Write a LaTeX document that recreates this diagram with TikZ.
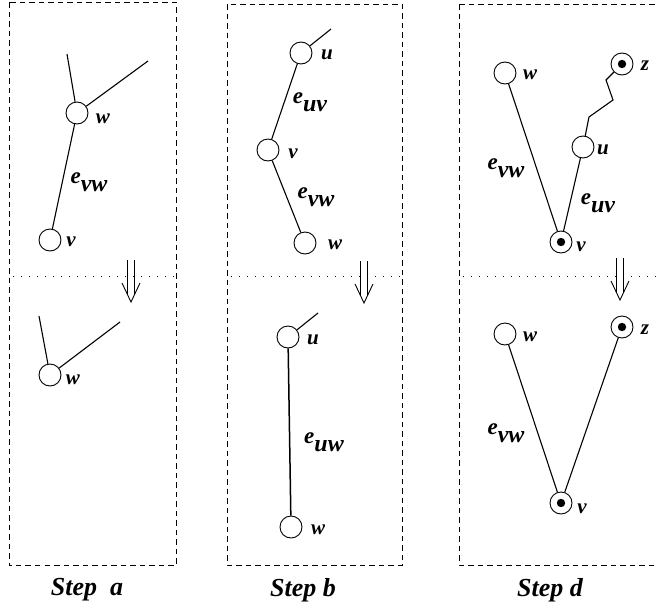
\documentclass[tikz,border=0pt]{standalone}
\usepackage{fontspec}
\setmainfont{Liberation Serif}
\tikzset{
  vtx/.style={circle,draw,minimum size=22pt,inner sep=0pt,line width=0.9pt},
  mk/.style={vtx,path picture={\fill (path picture bounding box.center) circle (4.2pt);}},
  lbl/.style={font=\fontsize{21}{21}\selectfont\bfseries\itshape,inner sep=0pt},
  elbl/.style={font=\fontsize{23}{23}\selectfont\bfseries\itshape,inner sep=0pt},
  steptitle/.style={font=\fontsize{26}{26}\selectfont\bfseries\itshape,inner sep=0pt},
  edge/.style={line width=1.1pt},
  frame/.style={line width=0.9pt,dash pattern=on 5.5pt off 4pt},
  sep/.style={line width=1pt,dash pattern=on 1.3pt off 6.7pt},
  down/.pic={
    \draw[line width=0.9pt] (-3.5,-42) -- (-3.5,-7.4) (3.5,-42) -- (3.5,-7.4);
    \draw[line width=0.9pt] (-9,-19) -- (0,0) -- (9,-19);
  }
}
\newcommand{\esub}[1]{e\raisebox{-8pt}{\fontsize{24}{24}\selectfont #1}}
\begin{document}
\begin{tikzpicture}[x=1pt,y=-1pt]
\useasboundingbox (0,0) rectangle (658,608);

% frames and separators
\draw[frame] (9,2) rectangle (176,565);
\draw[frame] (227,4) rectangle (402,565);
\draw[frame] (459,4) -- (662,4) (459,4) -- (459,565) -- (662,565);
\draw[sep] (13,276) -- (175,276);
\draw[sep] (231,276) -- (402,276);
\draw[sep] (463,276) -- (658,276);

% arrows between stages (tip positions)
\pic at (131,302) {down};
\pic at (364,303) {down};
\pic at (620,300) {down};

% ---- step a, before
\node[vtx] (aw) at (77,113) {};
\node[vtx] (av) at (50,240) {};
\coordinate (aw1) at (67,54);
\coordinate (aw2) at (148,61);
\draw[edge] (aw) -- (aw1);
\draw[edge] (aw) -- (aw2);
\draw[edge] (av) -- (aw);
\node[lbl] at (103,119) {w};
\node[lbl] at (71,242) {v};
\node[elbl] at (89,182) {\esub{vw}};

% ---- step a, after
\node[vtx] (bw) at (50,375) {};
\coordinate (bw1) at (39,316);
\coordinate (bw2) at (120,322);
\draw[edge] (bw) -- (bw1);
\draw[edge] (bw) -- (bw2);
\node[lbl] at (73,380) {w};

% ---- step b, before
\node[vtx] (cu) at (301,53) {};
\node[vtx] (cv) at (268,150) {};
\node[vtx] (cw) at (305,243) {};
\coordinate (cu1) at (331,29);
\draw[edge] (cu) -- (cu1);
\draw[edge] (cu) -- (cv);
\draw[edge] (cv) -- (cw);
\node[lbl] at (327,55) {u};
\node[lbl] at (293,154) {v};
\node[lbl] at (335,245) {w};
\node[elbl] at (310,102) {\esub{uv}};
\node[elbl] at (316,197) {\esub{vw}};

% ---- step b, after
\node[vtx] (du) at (288,337) {};
\node[vtx] (dw) at (291,527) {};
\coordinate (du1) at (318,313);
\draw[edge] (du) -- (du1);
\draw[line width=1.5pt] (du) -- (dw);
\node[lbl] at (313,340) {u};
\node[lbl] at (318,530) {w};
\node[elbl] at (324,442) {\esub{uw}};

% ---- step d, before
\node[vtx] (ew) at (505,73) {};
\node[mk] (ez) at (622,64) {};
\node[vtx] (eu) at (583,147) {};
\node[mk] (ev) at (561,242) {};
\draw[edge] (ew) -- (ev);
\draw[edge] (eu) -- (ev);
\draw[edge] (ez) -- (606,80) -- (613,100) -- (589,117) -- (eu);
\node[lbl] at (530,75) {w};
\node[lbl] at (645,66) {z};
\node[lbl] at (603,150) {u};
\node[lbl] at (581,247) {v};
\node[elbl] at (506,168) {\esub{vw}};
\node[elbl] at (598,203) {\esub{uv}};

% ---- step d, after
\node[vtx] (fw) at (505,334) {};
\node[mk] (fz) at (622,327) {};
\node[mk] (fv) at (561,503) {};
\draw[edge] (fw) -- (fv);
\draw[edge] (fz) -- (fv);
\node[lbl] at (530,337) {w};
\node[lbl] at (645,330) {z};
\node[lbl] at (582,509) {v};
\node[elbl] at (506,433) {\esub{vw}};

% captions
\node[steptitle] at (87,590) {Step~~a};
\node[steptitle] at (303,590) {Step b};
\node[steptitle] at (550,590) {Step d};
\end{tikzpicture}
\end{document}
